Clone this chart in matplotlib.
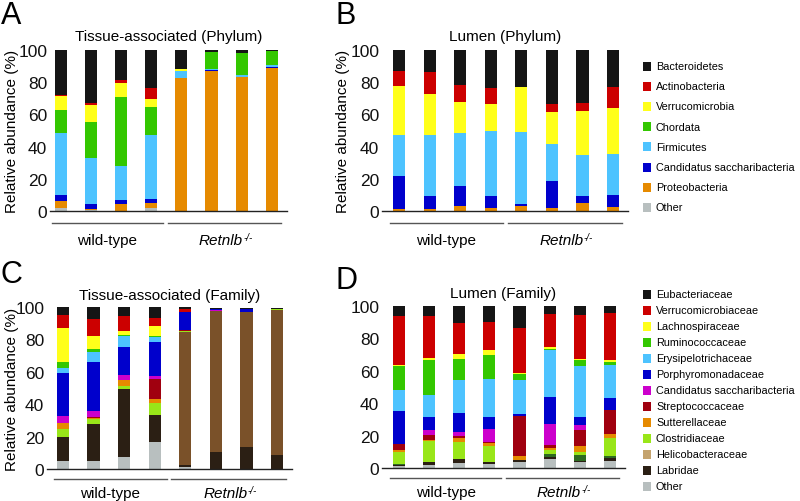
import matplotlib.pyplot as plt
import numpy as np
from matplotlib.patches import Rectangle

plt.rcParams['font.family'] = ['Liberation Sans', 'DejaVu Sans']

# ---- DATA (relative abundance %, 4 wild-type then 4 Retnlb-/- samples) ----
group_labels = ['wild-type', 'Retnlb']

phylum_names = ['Bacteroidetes', 'Actinobacteria', 'Verrucomicrobia', 'Chordata',
                'Firmicutes', 'Candidatus saccharibacteria', 'Proteobacteria', 'Other']

# A: tissue-associated, phylum
a_other = [1.7, 0.5, 0.3, 1.9, 0, 0, 0, 0]
a_proteo = [4.3, 1.0, 4.0, 3.1, 82.5, 87.2, 83.0, 89.0]
a_cand = [4.1, 3.0, 2.5, 2.2, 0.3, 0.3, 0.3, 0.2]
a_firm = [38.1, 28.4, 21.4, 40.2, 3.9, 0.9, 1.2, 1.5]
a_chord = [14.5, 22.4, 42.6, 17.2, 0.5, 10.6, 13.6, 8.5]
a_verru = [8.5, 10.5, 8.9, 5.0, 0.8, 0, 0, 0]
a_actino = [0.6, 1.1, 1.5, 7.0, 0, 0, 0, 0]
a_bact = [28.2, 33.1, 18.8, 23.4, 12.0, 1.0, 1.9, 0.8]

# B: lumen, phylum
b_other = [0, 0, 0, 0, 0, 0, 0, 0]
b_proteo = [1.4, 1.4, 3.3, 2.0, 3.0, 2.0, 4.8, 2.5]
b_cand = [20.1, 8.1, 12.4, 7.1, 1.3, 16.6, 4.3, 7.2]
b_firm = [25.9, 37.5, 32.7, 40.4, 44.6, 23.0, 25.9, 25.7]
b_chord = [0, 0, 0, 0, 0, 0, 0, 0]
b_verru = [30.4, 25.7, 19.1, 17.0, 27.9, 20.1, 27.3, 28.4]
b_actino = [9.4, 13.6, 10.8, 9.7, 0.2, 4.8, 4.6, 13.0]
b_bact = [12.8, 13.7, 21.7, 23.8, 23.0, 33.5, 33.1, 23.2]

family_names = ['Eubacteriaceae', 'Verrucomicrobiaceae', 'Lachnospiraceae', 'Ruminococcaceae',
                'Erysipelotrichaceae', 'Porphyromonadaceae', 'Candidatus saccharibacteria',
                'Streptococcaceae', 'Sutterellaceae', 'Clostridiaceae', 'Helicobacteraceae',
                'Labridae', 'Other']

# C: tissue-associated, family
c_other = [5.1, 5.1, 7.2, 16.5, 1.0, 0, 0, 0]
c_labr = [14.4, 22.7, 42.2, 16.8, 1.5, 10.3, 13.8, 8.8]
c_helico = [0, 0, 0, 0, 81.9, 87.0, 82.9, 89.5]
c_unassigned = [0, 0, 0, 0, 0, 0, 0, 0]
c_clostr = [5.2, 3.1, 2.0, 7.4, 1.0, 0.3, 0.3, 0.5]
c_sutter = [3.5, 0.5, 3.5, 2.5, 0, 0, 0, 0]
c_strep = [0.3, 0.9, 0.3, 12.4, 0.4, 0, 0, 0]
c_cand = [4.0, 3.3, 2.8, 2.0, 0, 0.5, 0, 0]
c_porph = [26.8, 30.7, 17.1, 21.0, 10.9, 0.8, 1.8, 0]
c_erys = [2.8, 5.7, 7.2, 2.7, 0.3, 0, 0, 0]
c_rumino = [3.7, 2.1, 0.4, 0.6, 0, 0, 0, 0]
c_lachno = [21.0, 7.8, 2.7, 6.6, 0, 0, 0, 0]
c_verru = [8.5, 10.7, 8.8, 4.7, 1.8, 0, 0, 0]
c_eubact = [4.7, 7.4, 5.8, 6.8, 1.2, 0.3, 0.5, 0.8]

# D: lumen, family
d_other = [1.0, 2.0, 3.1, 2.5, 3.9, 5.6, 3.5, 4.5]
d_labr = [0.6, 1.5, 2.5, 1.4, 0.8, 1.0, 0.8, 1.9]
d_helico = [0, 0, 0, 0, 0, 0, 0, 0]
d_unassigned = [0.7, 0.4, 0, 0, 0, 2.0, 3.9, 1.0]
d_clostr = [7.7, 12.6, 10.7, 9.5, 0, 2.5, 1.5, 11.3]
d_sutter = [1.3, 0.8, 2.4, 2.0, 2.9, 1.5, 4.1, 2.5]
d_strep = [3.5, 3.1, 1.3, 0.4, 24.7, 1.6, 9.7, 14.8]
d_cand = [0, 3.1, 2.0, 8.3, 0, 12.8, 3.2, 0]
d_porph = [20.4, 7.8, 12.0, 7.6, 0.8, 16.6, 4.6, 7.2]
d_erys = [12.9, 13.7, 20.5, 23.2, 21.4, 29.4, 31.5, 20.4]
d_rumino = [14.7, 21.7, 12.8, 14.9, 3.3, 0.7, 4.1, 1.6]
d_lachno = [0.8, 1.4, 3.1, 3.2, 1.0, 1.2, 0.4, 1.7]
d_verru = [30.4, 25.9, 19.3, 17.3, 27.8, 20.4, 27.1, 28.8]
d_eubact = [6.0, 6.0, 10.3, 9.7, 13.4, 4.7, 5.6, 4.3]

# ---- COLOURS ----
phylum_colors = ['#151515', '#cc0000', '#ffff1a', '#33c700',
                 '#4dc3ff', '#0000cc', '#e68a00', '#b8bfbf']
family_colors = ['#151515', '#cc0000', '#ffff1a', '#33c700', '#4dc3ff', '#0000cc',
                 '#cc00cc', '#a0000f', '#e68a00', '#99e619', '#7a5129', '#2b1f14', '#b8bfbf']
family_key_colors = family_colors[:10] + ['#c4a36e'] + family_colors[11:]
unassigned_color = '#2e6b22'

W, H = 800, 502
fig = plt.figure(figsize=(8, 5.02), dpi=100)


def px_axes(left, right, y0, y100):
    return fig.add_axes([left / W, 1 - y0 / H, (right - left) / W, (y0 - y100) / H])


def stacked(ax, series, colors):
    x = np.arange(len(series[0]))
    bottom = np.zeros(len(x))
    for vals, col in zip(series, colors):
        ax.bar(x, vals, 0.4, bottom=bottom, color=col, linewidth=0)
        bottom += np.array(vals)


def style(ax, xlim, title, title_y, line_y, label_y, ylabel_x=None):
    ax.set_xlim(*xlim)
    ax.set_ylim(0, 100)
    ax.set_yticks(range(0, 101, 20))
    ax.tick_params(axis='y', length=0, pad=2, labelsize=12.5, colors='#111')
    ax.set_xticks([])
    for s in ['top', 'right', 'left']:
        ax.spines[s].set_visible(False)
    ax.spines['bottom'].set_color('#222')
    ax.spines['bottom'].set_linewidth(1)
    ax.text(0.5, title_y, title, transform=ax.transAxes, ha='center', va='center', fontsize=11)
    if ylabel_x is not None:
        ax.text(ylabel_x, 0.5, 'Relative abundance (%)', transform=ax.transAxes, rotation=90,
                ha='center', va='center', fontsize=11)
    tr = ax.get_xaxis_transform()
    spans = [(-0.3, 3.4), (3.55, 7.3)]
    for (x0, x1) in spans:
        ax.plot([x0, x1], [line_y, line_y], transform=tr, clip_on=False, color='#555', lw=1)
    ax.text(sum(spans[0]) / 2, label_y, group_labels[0], transform=tr,
            ha='center', va='center', fontsize=11)
    t = ax.text(sum(spans[1]) / 2 - 0.12, label_y, group_labels[1], transform=tr,
                ha='center', va='center', fontsize=11, style='italic')
    ax.annotate('-/-', xy=(1.0, 1.0), xycoords=t, xytext=(0.5, 1), textcoords='offset points',
                ha='left', va='top', fontsize=7, style='italic')


def legend(names, colors, y_first, dy):
    for i, (n, c) in enumerate(zip(names, colors)):
        y = y_first + i * dy
        fig.add_artist(Rectangle((643 / W, 1 - (y + 4.5) / H), 8 / W, 9 / H,
                                 transform=fig.transFigure, color=c, lw=0))
        fig.text(656 / W, 1 - y / H, n, va='center', ha='left', fontsize=7.8)


# Panel A
axA = px_axes(50, 287, 212, 51)
stacked(axA, [a_other, a_proteo, a_cand, a_firm, a_chord, a_verru, a_actino, a_bact],
        phylum_colors[::-1])
style(axA, (-0.35, 7.5), 'Tissue-associated (Phylum)', 1.087, -0.0745, -0.18, ylabel_x=-0.16)

# Panel B
axB = px_axes(382, 628, 212, 51)
stacked(axB, [b_other, b_proteo, b_cand, b_firm, b_chord, b_verru, b_actino, b_bact],
        phylum_colors[::-1])
style(axB, (-0.56, 7.49), 'Lumen (Phylum)', 1.087, -0.0745, -0.18, ylabel_x=-0.159)

stack_colors = family_colors[::-1]
stack_colors = stack_colors[:3] + [unassigned_color] + stack_colors[3:]

# Panel C
axC = px_axes(47, 292, 470, 308)
stacked(axC, [c_other, c_labr, c_helico, c_unassigned, c_clostr, c_sutter, c_strep, c_cand,
              c_porph, c_erys, c_rumino, c_lachno, c_verru, c_eubact], stack_colors)
style(axC, (-0.52, 7.49), 'Tissue-associated (Family)', 1.074, -0.062, -0.148, ylabel_x=-0.143)

# Panel D
axD = px_axes(382, 625, 469, 307)
stacked(axD, [d_other, d_labr, d_helico, d_unassigned, d_clostr, d_sutter, d_strep, d_cand,
              d_porph, d_erys, d_rumino, d_lachno, d_verru, d_eubact], stack_colors)
style(axD, (-0.56, 7.5), 'Lumen (Family)', 1.08, -0.062, -0.148)

legend(phylum_names, phylum_colors, 67, 20.2)
legend(family_names, family_key_colors, 295, 16)

for letter, x, y in [('A', 1, 16), ('B', 335, 16), ('C', 1, 275), ('D', 336, 281)]:
    fig.text(x / W, 1 - y / H, letter, fontsize=22, ha='left', va='center')

fig.savefig('out.png', dpi=100)
